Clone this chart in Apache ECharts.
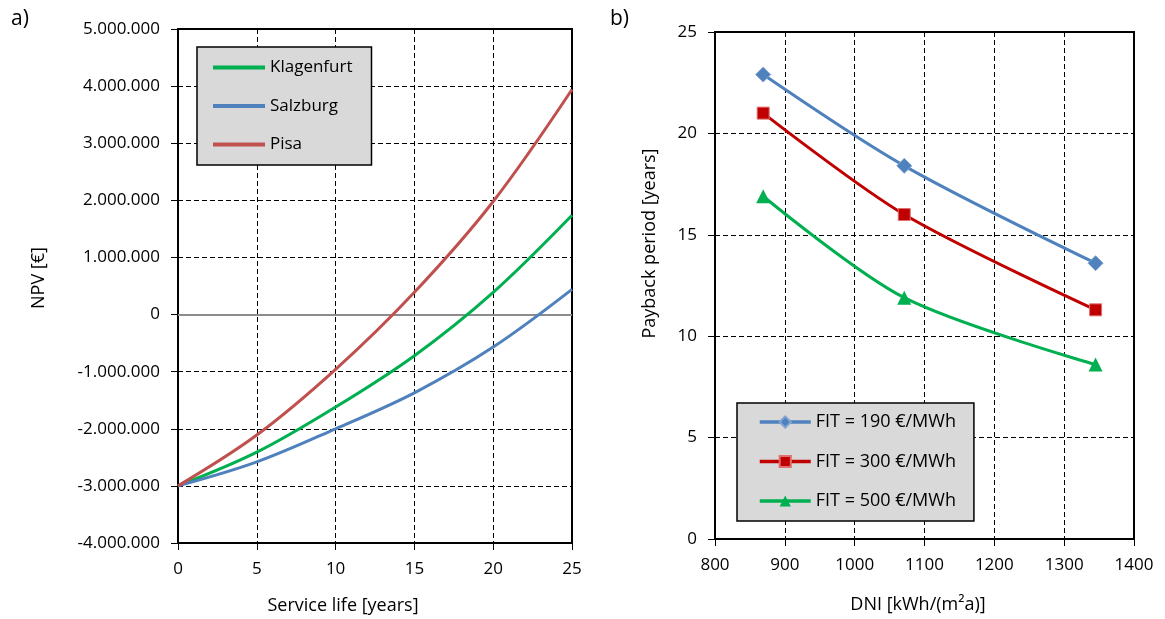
<!DOCTYPE html>
<html>
<head>
<meta charset="utf-8">
<script src="https://cdn.jsdelivr.net/npm/echarts@6/dist/echarts.min.js"></script>
<style>
html, body { margin: 0; padding: 0; background: #fff; }
#main { width: 1165px; height: 619px; }
</style>
</head>
<body>
<div id="main"></div>
<script>
// a) NPV over service life
var years = [0, 5, 10, 15, 20, 25];
var klagenfurt = [-3000000, -2410000, -1620000, -720000, 390000, 1740000];
var salzburg = [-3000000, -2580000, -2000000, -1370000, -570000, 440000];
var pisa = [-3000000, -2110000, -960000, 390000, 1980000, 3940000];

// b) payback period over DNI
var dni = [869, 1071, 1345];
var fit190 = [22.9, 18.4, 13.6];
var fit300 = [21.0, 16.0, 11.3];
var fit500 = [16.9, 11.9, 8.6];

var font = '"Open Sans", sans-serif';

function pairs(xs, ys) {
    return xs.map(function (x, i) { return [x, ys[i]]; });
}
function dots(v) {
    var s = Math.abs(v).toString().replace(/\B(?=(\d{3})+(?!\d))/g, '.');
    return (v < 0 ? '-' : '') + s;
}
function plain(v) { return String(v); }
function nameStyle(pad) {
    return { fontSize: 18, color: '#000', fontFamily: font, padding: pad };
}

var base = {
    splitLine: { show: true, lineStyle: { color: '#000', type: [5, 3], width: 1 } },
    axisLine: { show: true, onZero: false, lineStyle: { color: '#000', width: 2 } },
    axisTick: { show: true, length: 7, lineStyle: { color: '#000', width: 1 } }
};

var myChart = echarts.init(document.getElementById('main'));
var option = {
    backgroundColor: '#fff',
    animation: false,
    textStyle: { fontFamily: font },
    title: [
        { text: 'a)', left: 6, top: 4, textStyle: { fontSize: 21, fontWeight: 'normal', color: '#000', fontFamily: font } },
        { text: 'b)', left: 605, top: 4, textStyle: { fontSize: 21, fontWeight: 'normal', color: '#000', fontFamily: font } }
    ],
    grid: [
        { left: 178, top: 29, width: 394, height: 514, show: true, borderColor: '#000', borderWidth: 2,
          containLabel: false, outerBoundsMode: 'none' },
        { left: 715, top: 32, width: 419, height: 507, show: true, borderColor: '#000', borderWidth: 2,
          containLabel: false, outerBoundsMode: 'none' }
    ],
    legend: [
        {
            data: [
                { name: 'Klagenfurt', icon: 'rect' },
                { name: 'Salzburg', icon: 'rect' },
                { name: 'Pisa', icon: 'rect' }
            ],
            orient: 'vertical', left: 197, top: 47,
            padding: [12, 19, 12, 16], itemGap: 21.5, itemWidth: 52, itemHeight: 4,
            backgroundColor: '#D9D9D9', borderColor: '#000', borderWidth: 1.5,
            textStyle: { fontSize: 17, color: '#000', fontFamily: font }
        },
        {
            data: ['FIT = 190 €/MWh', 'FIT = 300 €/MWh', 'FIT = 500 €/MWh'],
            orient: 'vertical', left: 737, top: 403,
            padding: [10, 18, 11, 21], itemGap: 21.5, itemWidth: 51, itemHeight: 14,
            lineStyle: { width: 3.5 },
            backgroundColor: '#D9D9D9', borderColor: '#000', borderWidth: 1.5,
            textStyle: { fontSize: 18, color: '#000', fontFamily: font }
        }
    ],
    xAxis: [
        Object.assign({}, base, {
            gridIndex: 0, type: 'value', min: 0, max: 25, interval: 5,
            axisLabel: { color: '#000', fontFamily: font, fontSize: 17, margin: 18, formatter: plain },
            name: 'Service life [years]', nameLocation: 'middle', nameGap: 54,
            nameTextStyle: nameStyle([0, 64, 0, 0])
        }),
        Object.assign({}, base, {
            gridIndex: 1, type: 'value', min: 800, max: 1400, interval: 100,
            axisLabel: { color: '#000', fontFamily: font, fontSize: 17, margin: 18, formatter: plain },
            name: 'DNI [kWh/(m²a)]', nameLocation: 'middle', nameGap: 57,
            nameTextStyle: nameStyle([0, 13, 0, 0])
        })
    ],
    yAxis: [
        Object.assign({}, base, {
            gridIndex: 0, type: 'value', min: -4000000, max: 5000000, interval: 1000000,
            axisLabel: { color: '#000', fontFamily: font, fontSize: 17, formatter: dots, margin: 18 },
            name: 'NPV [€]', nameLocation: 'middle', nameGap: 130,
            nameTextStyle: nameStyle([0, 0, 0, 16])
        }),
        Object.assign({}, base, {
            gridIndex: 1, type: 'value', min: 0, max: 25, interval: 5,
            axisLabel: { color: '#000', fontFamily: font, fontSize: 17, margin: 18, formatter: plain },
            name: 'Payback period [years]', nameLocation: 'middle', nameGap: 56,
            nameTextStyle: nameStyle([0, 0, 0, 84])
        })
    ],
    series: [
        {
            name: 'Klagenfurt', type: 'line', xAxisIndex: 0, yAxisIndex: 0,
            smooth: 0.35, symbol: 'none', z: 3,
            lineStyle: { color: '#00B050', width: 3 }, itemStyle: { color: '#00B050' },
            data: pairs(years, klagenfurt),
            markLine: {
                silent: true, symbol: 'none', label: { show: false }, z: 1,
                lineStyle: { color: '#8C8C8C', type: 'solid', width: 2 },
                data: [{ yAxis: 0 }]
            }
        },
        {
            name: 'Salzburg', type: 'line', xAxisIndex: 0, yAxisIndex: 0,
            smooth: 0.35, symbol: 'none', z: 3,
            lineStyle: { color: '#4F81BD', width: 3 }, itemStyle: { color: '#4F81BD' },
            data: pairs(years, salzburg)
        },
        {
            name: 'Pisa', type: 'line', xAxisIndex: 0, yAxisIndex: 0,
            smooth: 0.35, symbol: 'none', z: 3,
            lineStyle: { color: '#C0504D', width: 3 }, itemStyle: { color: '#C0504D' },
            data: pairs(years, pisa)
        },
        {
            name: 'FIT = 190 €/MWh', type: 'line', xAxisIndex: 1, yAxisIndex: 1,
            smooth: 0.3, symbol: 'diamond', symbolSize: 15,
            lineStyle: { color: '#4F81BD', width: 3 },
            itemStyle: { color: '#4F81BD', borderColor: '#7FA3D3', borderWidth: 1 },
            data: pairs(dni, fit190)
        },
        {
            name: 'FIT = 300 €/MWh', type: 'line', xAxisIndex: 1, yAxisIndex: 1,
            smooth: 0.3, symbol: 'rect', symbolSize: 12,
            lineStyle: { color: '#C00000', width: 3 },
            itemStyle: { color: '#C00000', borderColor: '#E07070', borderWidth: 1 },
            data: pairs(dni, fit300)
        },
        {
            name: 'FIT = 500 €/MWh', type: 'line', xAxisIndex: 1, yAxisIndex: 1,
            smooth: 0.3, symbol: 'triangle', symbolSize: 14,
            lineStyle: { color: '#00B050', width: 3 },
            itemStyle: { color: '#00B050' },
            data: pairs(dni, fit500)
        }
    ]
};
myChart.setOption(option);
</script>
</body>
</html>
